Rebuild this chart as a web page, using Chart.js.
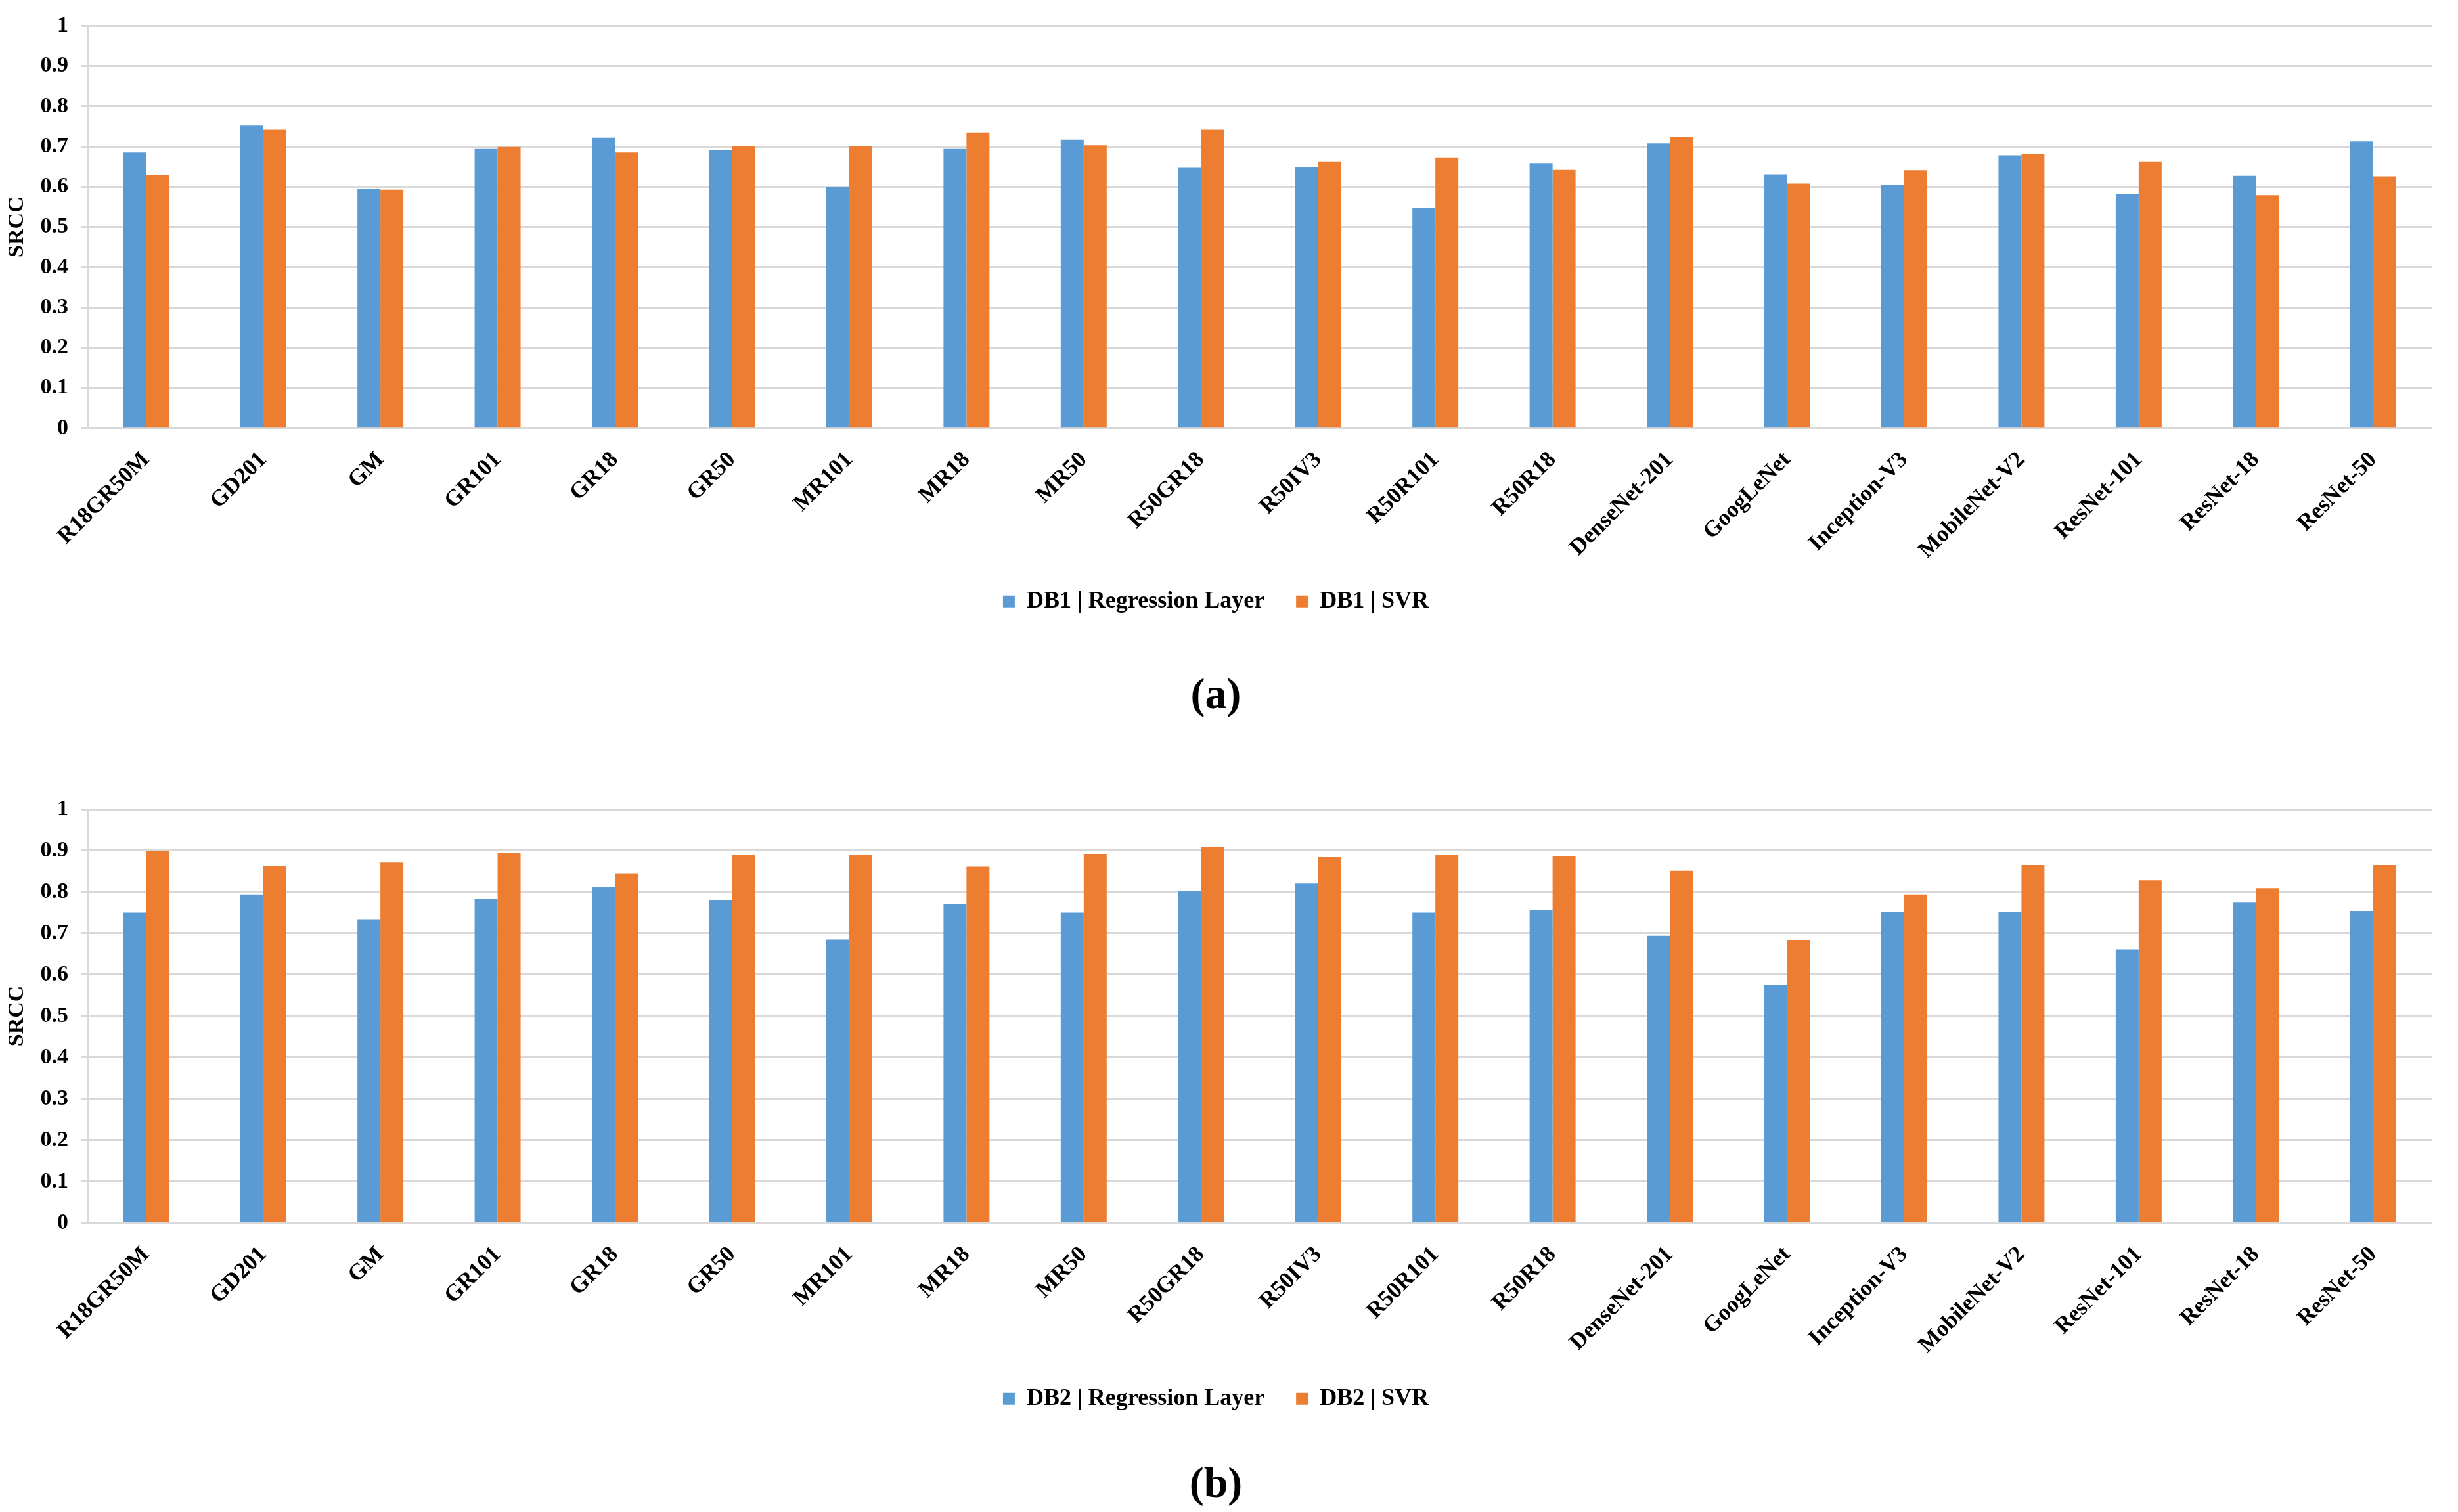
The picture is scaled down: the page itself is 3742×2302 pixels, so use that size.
<!DOCTYPE html>
<html>
<head>
<meta charset="utf-8">
<script src="https://cdn.jsdelivr.net/npm/chart.js@4.4.1/dist/chart.umd.min.js"></script>
<style>
  html, body { margin: 0; padding: 0; background: #ffffff; }
  body { width: 3742px; height: 2302px; position: relative; overflow: hidden; }
  canvas { position: absolute; left: 0; }
</style>
</head>
<body>
<canvas id="chartA" width="3742" height="1112" style="top:0px;width:3742px;height:1112px;"></canvas>
<canvas id="chartB" width="3742" height="1162" style="top:1140px;width:3742px;height:1162px;"></canvas>
<script>
const categories = ['R18GR50M', 'GD201', 'GM', 'GR101', 'GR18', 'GR50', 'MR101', 'MR18', 'MR50', 'R50GR18',
  'R50IV3', 'R50R101', 'R50R18', 'DenseNet-201', 'GoogLeNet', 'Inception-V3', 'MobileNet-V2', 'ResNet-101', 'ResNet-18', 'ResNet-50'];

const db1Regression = [0.685, 0.752, 0.594, 0.694, 0.722, 0.691, 0.599, 0.694, 0.717, 0.647,
  0.649, 0.547, 0.659, 0.708, 0.631, 0.605, 0.678, 0.581, 0.627, 0.713];
const db1SVR = [0.630, 0.742, 0.593, 0.699, 0.685, 0.701, 0.702, 0.735, 0.703, 0.742,
  0.663, 0.673, 0.642, 0.723, 0.608, 0.641, 0.681, 0.663, 0.579, 0.626];

const db2Regression = [0.750, 0.794, 0.734, 0.783, 0.811, 0.781, 0.685, 0.771, 0.750, 0.802,
  0.820, 0.750, 0.756, 0.694, 0.575, 0.752, 0.752, 0.661, 0.774, 0.754];
const db2SVR = [0.900, 0.862, 0.871, 0.894, 0.845, 0.889, 0.890, 0.861, 0.892, 0.909,
  0.884, 0.889, 0.887, 0.851, 0.684, 0.794, 0.865, 0.828, 0.809, 0.865];

const yTickLabels = ['0', '0.1', '0.2', '0.3', '0.4', '0.5', '0.6', '0.7', '0.8', '0.9', '1'];

const seriesNamesA = ['DB1 | Regression Layer', 'DB1 | SVR'];
const seriesNamesB = ['DB2 | Regression Layer', 'DB2 | SVR'];
const yAxisTitle = 'SRCC';
const captionA = '(a)';
const captionB = '(b)';

const BLUE = '#5B9BD5';
const ORANGE = '#ED7D31';
const GRID = '#D9D9D9';
const SERIF = '"Liberation Serif", "Times New Roman", serif';

function makeChart(id, names, regVals, svrVals, caption, geo) {
  const ctx = document.getElementById(id).getContext('2d');
  return new Chart(ctx, {
    type: 'bar',
    data: {
      labels: categories,
      datasets: [
        { label: names[0], data: regVals, backgroundColor: BLUE, borderWidth: 0,
          categoryPercentage: 0.392, barPercentage: 1.0 },
        { label: names[1], data: svrVals, backgroundColor: ORANGE, borderWidth: 0,
          categoryPercentage: 0.392, barPercentage: 1.0 }
      ]
    },
    options: {
      responsive: false,
      animation: false,
      devicePixelRatio: 1,
      layout: { padding: { top: geo.padTop, right: 40, bottom: 0, left: 0 } },
      plugins: {
        tooltip: { enabled: false },
        legend: {
          position: 'bottom',
          labels: {
            color: '#000000',
            font: { family: SERIF, size: 36, weight: 'bold' },
            boxWidth: 18,
            boxHeight: 18,
            padding: 48
          }
        },
        title: {
          display: true,
          position: 'bottom',
          text: caption,
          color: '#000000',
          font: { family: SERIF, size: 66, weight: 'bold', lineHeight: 1.2 },
          padding: { top: geo.capTop, bottom: geo.capBottom }
        }
      },
      scales: {
        x: {
          grid: { display: false, drawTicks: false },
          border: { display: true, color: GRID, width: 3 },
          ticks: {
            color: '#000000',
            font: { family: SERIF, size: 35, weight: 'bold' },
            minRotation: 45,
            maxRotation: 45,
            autoSkip: false,
            padding: 28
          },
          afterFit: (scale) => { scale.height = geo.xHeight; }
        },
        y: {
          min: 0,
          max: 1,
          grid: { color: GRID, lineWidth: 3, drawTicks: true, tickLength: 10, tickColor: GRID },
          border: { display: true, color: GRID, width: 3 },
          ticks: {
            stepSize: 0.1,
            color: '#000000',
            font: { family: SERIF, size: 34, weight: 'bold' },
            padding: 19,
            callback: (v, i) => yTickLabels[i]
          },
          title: {
            display: true,
            text: yAxisTitle,
            color: '#000000',
            font: { family: SERIF, size: 34, weight: 'bold' },
            padding: { top: 6, bottom: 0 }
          },
          afterFit: (scale) => { scale.width = 133; }
        }
      }
    }
  });
}

makeChart('chartA', seriesNamesA, db1Regression, db1SVR, captionA,
  { padTop: 36, xHeight: 198, capTop: 78, capBottom: 11 });
makeChart('chartB', seriesNamesB, db2Regression, db2SVR, captionB,
  { padTop: 92, xHeight: 202, capTop: 65, capBottom: 0 });
</script>
</body>
</html>
